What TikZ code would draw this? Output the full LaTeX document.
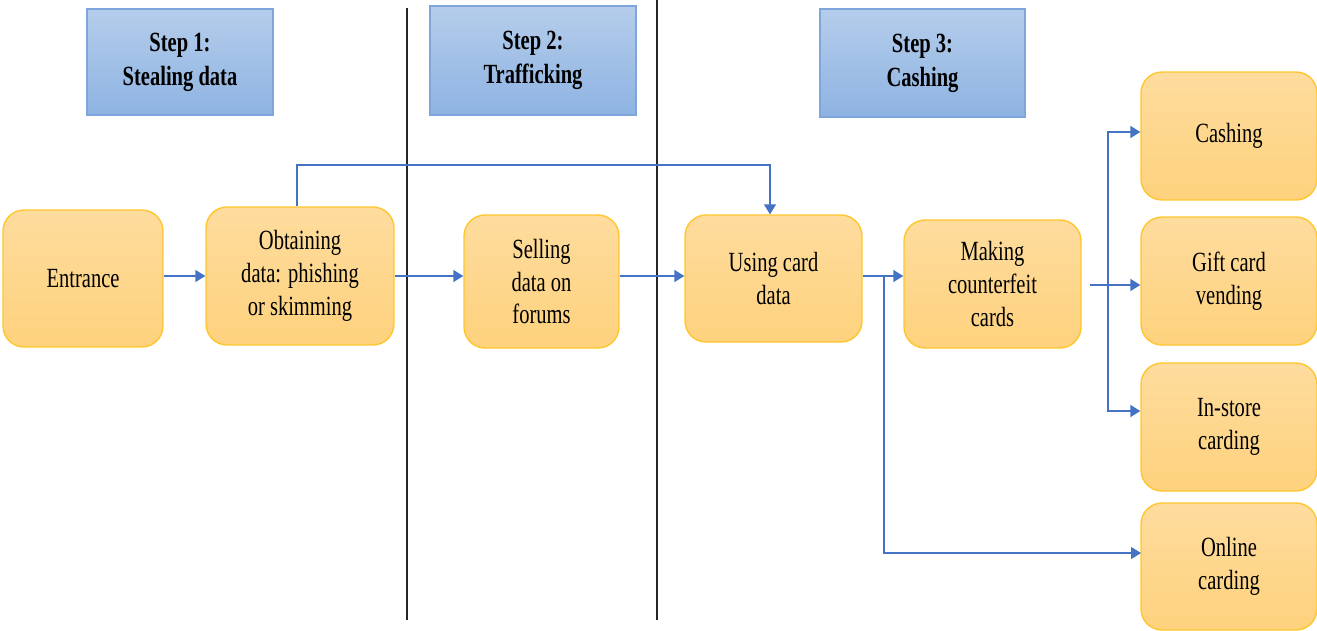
\documentclass[tikz,border=0pt]{standalone}
\usepackage{fontspec}
\setmainfont{Liberation Serif}[FakeStretch=0.74]
\usepackage{xcolor}
\usepackage{tikz}
\usetikzlibrary{shapes,arrows,positioning,calc,arrows.meta}
\definecolor{stepTop}{HTML}{B5CDEB}
\definecolor{stepBot}{HTML}{8EB3E2}
\definecolor{stepLine}{HTML}{7FA6DC}
\definecolor{boxTop}{HTML}{FEDC9E}
\definecolor{boxBot}{HTML}{FED27D}
\definecolor{boxLine}{HTML}{FFC62E}
\definecolor{flow}{HTML}{4472C4}

\begin{document}
\begin{tikzpicture}[x=0.02cm,y=-0.02cm,
    stepbox/.style={draw=stepLine,line width=0.8pt,top color=stepTop,bottom color=stepBot,
        align=center,font=\fontsize{15.8}{19.5}\selectfont\bfseries,inner sep=0pt},
    card/.style={draw=boxLine,line width=0.8pt,rounded corners=0.42cm,top color=boxTop,bottom color=boxBot,
        align=center,font=\fontsize{15.8}{18.6}\selectfont,inner sep=0pt,minimum width=3.52cm,minimum height=2.56cm},
    arr/.style={draw=flow,line width=0.8pt,-{Triangle[length=0.2cm,width=0.24cm]}},
    lane/.style={draw=black!85,line width=1.1pt}]
    \useasboundingbox (0,0) rectangle (1317,630);
    % Step headers
    \node[stepbox,minimum width=3.72cm,minimum height=2.12cm] (s1) at (180,62) {Step 1:\\Stealing data};
    \node[stepbox,minimum width=4.12cm,minimum height=2.18cm] (s2) at (533,60.5) {Step 2:\\Trafficking};
    \node[stepbox,minimum width=4.10cm,minimum height=2.16cm] (s3) at (922.5,63) {Step 3:\\Cashing};
    % Lane separators
    \draw[lane] (407,8) -- (407,620);
    \draw[lane] (657,0) -- (657,620);
    % Process boxes
    \node[card,minimum width=3.2cm,minimum height=2.74cm] (ent) at (83,278.5) {Entrance};
    \node[card,minimum width=3.76cm,minimum height=2.76cm] (obt) at (300,276) {Obtaining\\data: phishing\\or skimming};
    \node[card,minimum width=3.1cm,minimum height=2.66cm] (sell) at (541.5,281.5) {Selling\\data on\\forums};
    \node[card,minimum width=3.54cm,minimum height=2.54cm] (use) at (773.5,278.5) {Using card\\data};
    \node[card,minimum width=3.54cm] (make) at (992.5,284) {Making\\counterfeit\\cards};
    % Cashing outlets
    \node[card] (cash) at (1229,136) {Cashing};
    \node[card] (gift) at (1229,281) {Gift card\\vending};
    \node[card] (inst) at (1229,427) {In-store\\carding};
    \node[card,minimum height=2.54cm] (onl) at (1229,566.5) {Online\\carding};
    % Main flow
    \coordinate (main) at (0,276);
    \draw[arr] (ent.east |- main) -- (obt.west |- main);
    \draw[arr] (obt.east |- main) -- (sell.west |- main);
    \draw[arr] (sell.east |- main) -- (use.west |- main);
    \draw[arr] (obt.north -| 297,0) -- (297,165) -| (use.north -| 770,0);
    \draw[arr] (use.east |- main) -- (make.west |- main);
    % Branches to outlets
    \coordinate (br) at (884,276);
    \coordinate (onlIn) at (1141,553);
    \draw[arr] (br) |- (onlIn);
    \coordinate (sp) at (1108,285);
    \draw[arr] (1090,285) -- (gift.west |- sp);
    \draw[arr] (sp) |- (cash.west |- 0,132);
    \draw[arr] (sp) |- (inst.west |- 0,411);
\end{tikzpicture}
\end{document}
